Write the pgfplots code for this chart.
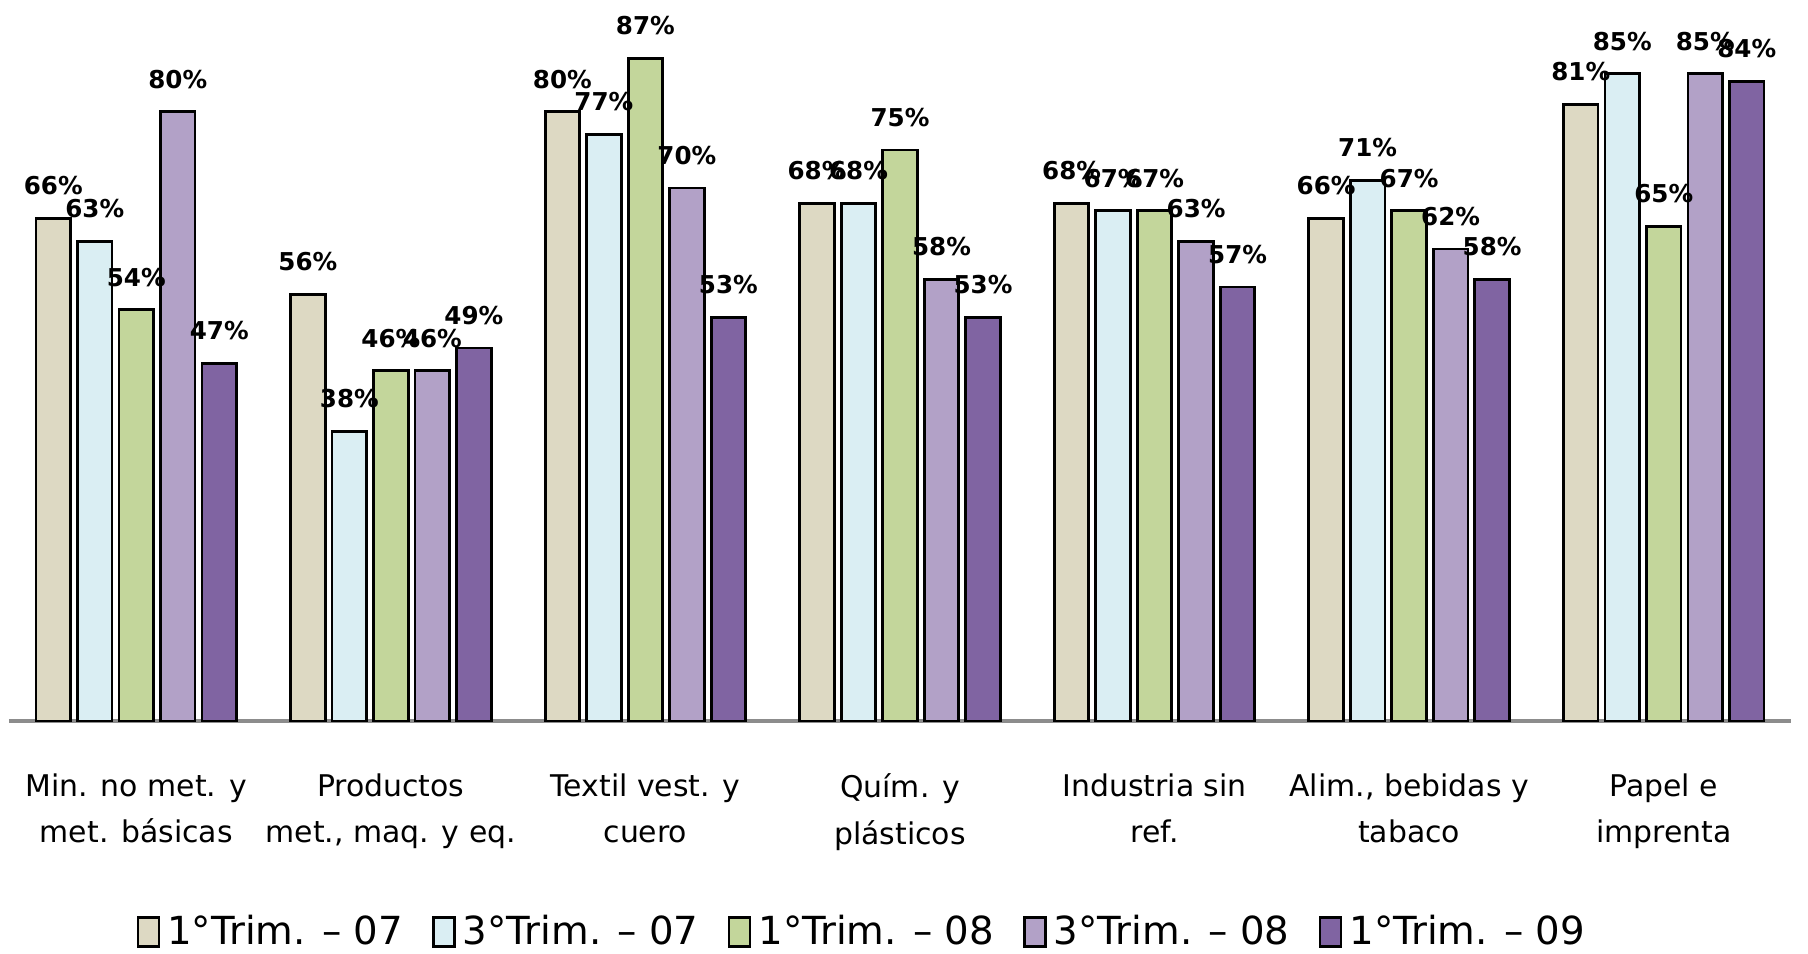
\documentclass[border=0pt]{standalone}
\usepackage{pgfplots}
\pgfplotsset{compat=1.18}
\usepackage{fontspec}
\setmainfont{DejaVu Sans}

\definecolor{cTan}{HTML}{DDD9C3}
\definecolor{cBlue}{HTML}{DAEEF3}
\definecolor{cGreen}{HTML}{C3D69B}
\definecolor{cLila}{HTML}{B2A1C7}
\definecolor{cPurp}{HTML}{8064A2}

\begin{document}
\begin{tikzpicture}
\begin{axis}[
    name=ax,
    scale only axis,
    width=17.82cm, height=7.21cm,
    xmin=-0.5, xmax=6.5,
    ymin=0, ymax=94.7,
    ybar=0.69mm,
    bar width=3.46mm,
    axis x line=bottom,
    axis y line=none,
    x axis line style={-, draw=black!45, line width=1pt},
    xtick={0,...,6},
    major tick length=0pt,
    xticklabels={{Min. no met. y\\met. básicas},{Productos\\met., maq. y eq.},{Textil vest. y\\cuero},{Quím. y\\plásticos},{Industria sin\\ref.},{Alim., bebidas y\\tabaco},{Papel e\\imprenta}},
    xticklabel style={align=center, font=\fontsize{8.5}{13.3}\selectfont, yshift=-4mm},
    /pgf/number format/assume math mode=true,
    nodes near coords={\pgfmathprintnumber{\pgfplotspointmeta}\%},
    every node near coord/.append style={font=\bfseries\fontsize{7}{8}\selectfont, inner sep=0pt, yshift=2.2mm, black},
    every axis plot/.append style={draw=black, line width=0.8pt,
        legend image code/.code={\draw[##1, line width=0.8pt] (0.4mm,-1.45mm) rectangle (2.5mm,1.45mm);}},
    clip=false,
    legend columns=5,
    legend style={draw=none, fill=none, at={(0.48,-0.293)}, anchor=center,
        font=\fontsize{11}{13}\selectfont,
        /tikz/every odd column/.append style={column sep=0mm},
        /tikz/every even column/.append style={column sep=2.2mm}},
]
\addplot[fill=cTan] coordinates {(0,66) (1,56) (2,80) (3,68) (4,68) (5,66) (6,81)};
\addplot[fill=cBlue] coordinates {(0,63) (1,38) (2,77) (3,68) (4,67) (5,71) (6,85)};
\addplot[fill=cGreen] coordinates {(0,54) (1,46) (2,87) (3,75) (4,67) (5,67) (6,65)};
\addplot[fill=cLila] coordinates {(0,80) (1,46) (2,70) (3,58) (4,63) (5,62) (6,85)};
\addplot[fill=cPurp] coordinates {(0,47) (1,49) (2,53) (3,53) (4,57) (5,58) (6,84)};
\legend{1°Trim. – 07, 3°Trim. – 07, 1°Trim. – 08, 3°Trim. – 08, 1°Trim. – 09}
\end{axis}
\pgfresetboundingbox
\path[use as bounding box] (ax.south west) ++(-0.09,-2.32) rectangle ++(18.08,9.53);
\end{tikzpicture}
\end{document}
